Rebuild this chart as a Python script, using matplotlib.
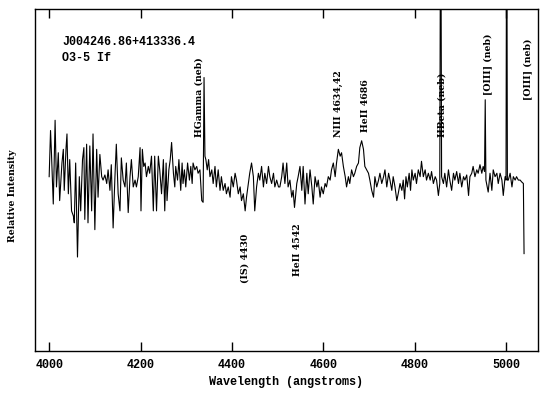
import numpy as np
import matplotlib
matplotlib.use("Agg")
import matplotlib.pyplot as plt

# spectrum (wavelength in angstroms, relative flux ~1 = continuum)
wave = [4000, 4003, 4005, 4009, 4013, 4016, 4020, 4023, 4028, 4031, 4033, 4037, 4039, 4042,
        4045, 4049, 4053, 4055, 4058, 4062, 4066, 4069, 4073, 4076, 4078, 4082, 4085, 4089,
        4093, 4096, 4100, 4104, 4107, 4111, 4115, 4118, 4122, 4126, 4129, 4133, 4136, 4140,
        4144, 4147, 4151, 4155, 4158, 4162, 4166, 4169, 4173, 4177, 4180, 4184, 4188, 4191,
        4195, 4199, 4201, 4204, 4207, 4210, 4213, 4217, 4220, 4224, 4228, 4231, 4235, 4239,
        4242, 4246, 4250, 4253, 4256, 4258, 4262, 4265, 4268, 4272, 4275, 4277, 4281, 4284,
        4288, 4291, 4293, 4296, 4299, 4303, 4307, 4310, 4313, 4315, 4319, 4323, 4326, 4330,
        4334, 4337, 4339, 4341, 4343, 4346, 4349, 4352, 4356, 4359, 4363, 4366, 4370, 4374,
        4377, 4381, 4385, 4388, 4392, 4396, 4399, 4403, 4407, 4410, 4414, 4418, 4421, 4425,
        4429, 4432, 4436, 4439, 4443, 4447, 4450, 4454, 4458, 4461, 4465, 4469, 4472, 4476,
        4480, 4483, 4487, 4491, 4494, 4498, 4502,
        4505, 4509, 4512, 4516, 4520, 4523, 4527, 4531, 4534, 4537, 4542, 4545, 4549, 4553,
        4556, 4560, 4564, 4567, 4571, 4575, 4578, 4582, 4586, 4589, 4593, 4596, 4600, 4604,
        4607, 4611, 4615, 4618, 4622, 4626, 4629, 4633, 4637, 4640, 4644, 4648, 4651, 4655,
        4658, 4662, 4666, 4669, 4673, 4677, 4680, 4684, 4688, 4691, 4695, 4699, 4702, 4706,
        4710, 4713, 4717, 4721, 4724, 4728, 4732, 4735, 4739, 4743, 4746, 4750, 4753, 4757,
        4761, 4764,
        4768, 4772, 4775, 4778, 4781, 4784, 4788, 4791, 4794, 4797, 4801, 4804, 4808, 4812,
        4815, 4819, 4823, 4826, 4830, 4834, 4837, 4841, 4845, 4848, 4852, 4855, 4857, 4859,
        4863, 4866, 4870, 4874, 4877, 4881, 4885, 4888, 4892, 4896, 4899, 4903, 4907, 4910,
        4914, 4918, 4921, 4925, 4928, 4932, 4936, 4939, 4943, 4947, 4950, 4953, 4954.5, 4956,
        4961, 4965, 4969, 4972, 4976, 4980, 4983, 4987, 4991, 4994, 4998, 5000, 5001.5, 5003,
        5005, 5009, 5013, 5016, 5020, 5023, 5027, 5031, 5034, 5038, 5039.5]
flux = [1.02, 1.29, 1.16, 0.86, 1.35, 0.96, 1.16, 0.88, 1.10, 1.18, 0.94, 1.19, 1.27, 0.92,
        1.12, 0.82, 0.79, 0.75, 1.10, 0.55, 1.02, 0.82, 1.12, 1.19, 0.77, 1.21, 0.75, 1.20,
        0.82, 1.27, 0.71, 1.18, 0.90, 1.15, 1.02, 1.00, 1.03, 0.98, 1.06, 0.94, 1.09, 0.72,
        1.02, 1.21, 0.92, 0.82, 1.13, 1.00, 0.96, 1.10, 0.81, 1.02, 1.12, 0.96, 1.00, 0.96,
        1.02, 1.19, 0.82, 1.18, 1.08, 1.10, 1.02, 1.08, 1.04, 1.14, 0.82, 1.14, 0.82, 1.14,
        1.06, 0.92, 1.12, 0.82, 1.10, 0.88, 1.06, 1.12, 1.22, 1.04, 0.96, 1.08, 1.00, 1.12,
        0.94, 1.10, 0.98, 1.06, 0.96, 1.10, 1.00, 1.08, 0.98, 1.10, 1.06, 1.08, 1.04, 1.06,
        0.88, 0.87, 1.60, 1.14, 1.12, 1.06, 1.12, 1.02, 1.06, 0.98, 1.08, 0.96, 1.06, 0.94,
        1.02, 0.94, 0.98, 0.92, 0.96, 0.90, 1.02, 0.96, 1.04, 1.00, 0.92, 0.96, 0.88, 0.92,
        0.82, 0.90, 0.98, 1.04, 1.10, 1.02, 0.82, 0.96, 1.04, 1.00, 1.08, 0.96, 1.04, 0.98,
        1.08, 1.02, 0.98, 1.04, 0.96, 1.00, 0.96,
        0.96, 1.02, 1.10, 0.98, 1.10, 0.96, 1.00, 0.90, 0.94, 0.84, 0.98, 1.02, 1.08, 0.94,
        1.08, 0.86, 1.04, 0.92, 1.06, 0.96, 0.86, 1.02, 0.96, 1.00, 0.90, 0.96, 0.92, 0.98,
        0.96, 1.02, 1.00, 1.06, 1.10, 1.02, 1.10, 1.18, 1.14, 1.16, 1.08, 1.02, 0.96, 1.02,
        0.98, 1.06, 1.02, 1.04, 1.08, 1.10, 1.19, 1.23, 1.18, 1.08, 1.06, 1.04, 1.00, 0.94,
        0.90, 1.02, 0.96, 1.00, 1.04, 0.98, 1.02, 1.06, 0.96, 1.04, 1.00, 0.94, 1.02, 0.96,
        0.88, 0.92,
        0.98, 0.94, 1.00, 0.89, 1.02, 0.96, 1.04, 0.94, 1.06, 1.00, 1.04, 0.98, 1.06, 1.02,
        1.11, 1.02, 1.06, 1.00, 1.04, 1.00, 1.05, 0.98, 1.02, 1.00, 0.91, 0.98, 3.00, 1.02,
        0.98, 1.04, 0.96, 1.06, 1.00, 0.94, 1.04, 1.00, 1.05, 0.98, 1.04, 0.96, 1.02, 1.00,
        1.03, 0.91, 1.02, 1.04, 1.08, 1.02, 1.06, 1.04, 1.09, 1.04, 1.08, 1.05, 1.47, 1.00,
        0.93, 1.04, 0.94, 1.06, 1.02, 1.04, 0.98, 1.04, 1.00, 0.91, 1.02, 1.00, 3.00, 1.00,
        1.00, 1.04, 0.96, 1.02, 1.00, 1.02, 1.00, 1.00, 0.99, 0.98, 0.57]

# line identifications: text, wavelength, bottom of label (flux units)
line_labels = ["HGamma (neb)", "NIII 4634,42", "HeII 4686", "HBeta (neb)",
               "[OIII] (neb)", "[OIII] (neb)", "(IS) 4430", "HeII 4542"]
line_x = [4328, 4634, 4693, 4860, 4960, 5048, 4429, 4543]
line_y = [1.25, 1.25, 1.28, 1.25, 1.50, 1.47, 0.40, 0.44]

star_name = "J004246.86+413336.4"
spec_type = "O3-5 If"
xticks = [4000, 4200, 4400, 4600, 4800, 5000]

mono = {"family": "Liberation Mono", "weight": "bold", "size": 8.5}
narrow = {"family": ["DejaVu Serif", "DejaVu Sans"], "stretch": "condensed",
          "weight": "bold", "size": 7.5}

fig = plt.figure(figsize=(5.6, 3.98), dpi=100)
ax = fig.add_axes([0.0625, 0.118, 0.8982, 0.859])

ax.plot(wave, flux, color="black", lw=0.8)
ax.set_xlim(3969, 5070)
ax.set_ylim(0, 2.0)

ax.set_xticks(xticks)
ax.set_xticklabels([str(t) for t in xticks], fontdict=mono)
ax.tick_params(axis="x", direction="in", length=6.5, width=1, top=True, pad=6)
ax.set_yticks([])
for s in ax.spines.values():
    s.set_linewidth(1.0)

ax.set_xlabel("Wavelength (angstroms)", fontdict=mono, labelpad=3)
ax.set_ylabel("Relative Intensity", fontdict=narrow)
ax.yaxis.set_label_coords(-0.036, 0.453)

ax.text(0.054, 0.903, star_name, transform=ax.transAxes, va="center", ha="left", **mono)
ax.text(0.054, 0.857, spec_type, transform=ax.transAxes, va="center", ha="left", **mono)

for lab, x, y in zip(line_labels, line_x, line_y):
    ax.text(x, y, lab, rotation=90, ha="center", va="bottom", **narrow)

fig.savefig("out.png", dpi=100)
